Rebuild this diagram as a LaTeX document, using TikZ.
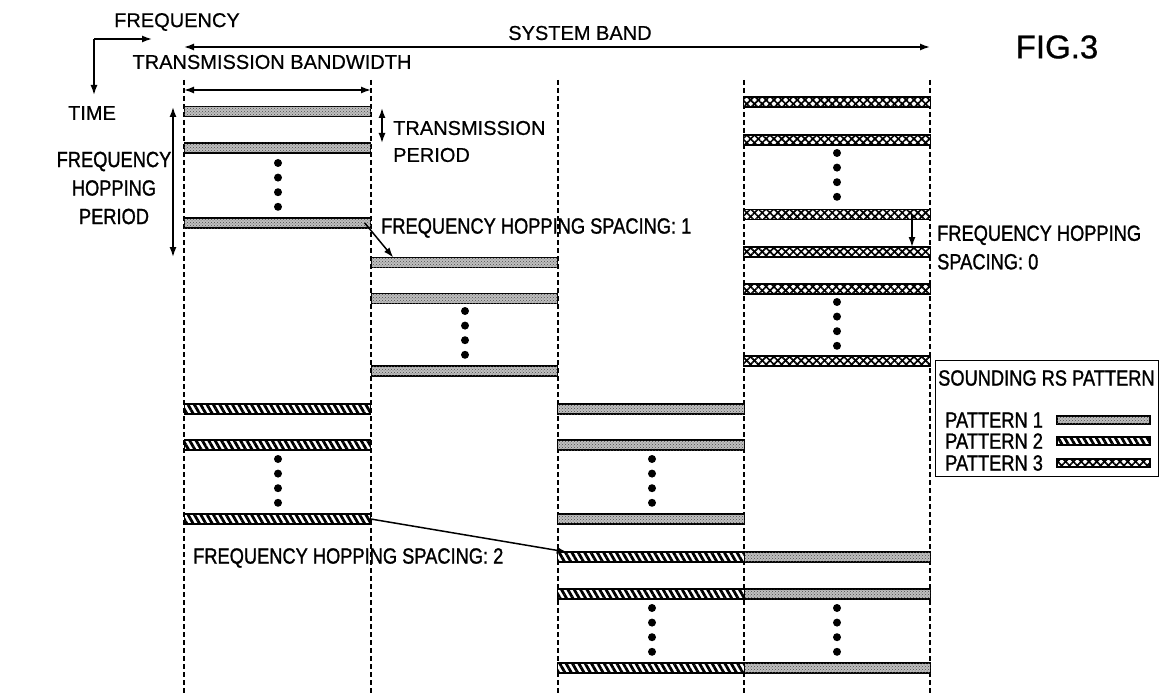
\documentclass[tikz,border=0pt]{standalone}
\usepackage{fontspec}
\setmainfont[FakeBold=0.6]{Liberation Sans}
\newfontfamily\gothic[FakeStretch=0.83,FakeBold=1.2]{Liberation Sans}
\usetikzlibrary{arrows.meta,positioning,patterns,patterns.meta}

\begin{document}
\begin{tikzpicture}[x=1pt,y=-1pt,
  axtext/.style={font=\fontsize{20}{27}\selectfont,inner sep=0pt},
  gtext/.style={font=\gothic\fontsize{22}{28.5}\selectfont,inner sep=0pt},
  guide/.style={line width=1.4pt,dash pattern=on 5pt off 3pt},
  arr/.style={line width=1.5pt,-{Latex[length=10pt,width=7pt]}},
  darr/.style={line width=1.5pt,{Latex[length=10pt,width=7pt]}-{Latex[length=10pt,width=7pt]}},
  slot/.style={draw=black,line width=1.3pt,minimum width=186.5pt,minimum height=10pt,inner sep=0pt,outer sep=0pt},
  patA/.style={slot,fill=black!25,postaction={pattern=crosshatch dots,pattern color=black!70}},
  patB/.style={slot,fill=white,postaction={pattern={Lines[angle=-60,distance=5.5pt,line width=2.8pt]}}},
  patC/.style={slot,fill=white,postaction={pattern={Lines[angle=45,distance=5.5pt,line width=1.7pt]}},
    postaction={pattern={Lines[angle=-45,distance=5.5pt,line width=1.7pt]}}},
  keybox/.style={minimum width=93pt,minimum height=8pt}]
  \useasboundingbox[fill=white] (0,0) rectangle (1161,695);
  % Axes
  \coordinate (axo) at (94,39);
  \coordinate (axf) at (152,39);
  \coordinate (axt) at (94,95);
  \draw[arr] (axo) -- (axf);
  \draw[arr] (axo) -- (axt);
  \node[axtext] (freq) at (177,22) {FREQUENCY};
  \node[axtext] (time) at (92,113) {TIME};
  \node[font=\fontsize{33}{36}\selectfont,inner sep=0pt] (fig) at (1057,47) {FIG.3};
  % Band limits
  \foreach \x in {184,371,558,744,930}
    \draw[guide] (\x,80) -- (\x,695);
  \coordinate (sbl) at (184,47);
  \coordinate (sbr) at (930,47);
  \draw[darr] (sbl) -- (sbr);
  \node[axtext] (band) at (580,33) {SYSTEM BAND};
  \coordinate (tbl) at (184,90);
  \coordinate (tbr) at (371,90);
  \draw[darr] (tbl) -- (tbr);
  \node[axtext] (tbw) at (272,62) {TRANSMISSION BANDWIDTH};
  % Periods
  \coordinate (tpt) at (382,108);
  \coordinate (tpb) at (382,143);
  \draw[darr] (tpt) -- (tpb);
  \node[axtext,anchor=west,align=left] (tper) at (393,141.5) {TRANSMISSION\\PERIOD};
  \coordinate (hpt) at (173,107);
  \coordinate (hpb) at (173,257);
  \draw[darr] (hpt) -- (hpb);
  \node[gtext,align=center] (hper) at (114,188) {FREQUENCY\\HOPPING\\PERIOD};
  % Pattern 1 slots
  \foreach \n/\x/\y in {b11/277.5/111.5, b12/277.5/148, b13/277.5/223,
      b21/464.5/262.5, b22/464.5/298.5, b23/464.5/371,
      c31/651/409, c32/651/445, c33/651/519,
      d41/837/557, d42/837/594, d43/837/668}
    \node[patA] (\n) at (\x,\y) {};
  % Pattern 2 slots
  \foreach \n/\x/\y in {c11/277.5/409, c12/277.5/445, c13/277.5/519,
      d31/651/557, d32/651/594, d33/651/668}
    \node[patB] (\n) at (\x,\y) {};
  % Pattern 3 slots
  \foreach \n/\y in {b41/102, b42/140, b43/214.5, b44/252, b45/289, b46/361}
    \node[patC] (\n) at (837,\y) {};
  % Dots
  \foreach \x/\y in {278/163, 465/311, 837/153, 837/302, 278/459, 652/459, 652/608, 837/608}
    \foreach \k in {0,...,3}
      \fill (\x,\y+14.6*\k) circle (4);
  % Hopping
  \draw[arr] ([xshift=-6pt]b13.east) -- ([xshift=22pt]b21.north west);
  \node[gtext,anchor=west] (hop1) at (381,228) {FREQUENCY HOPPING SPACING: 1};
  \draw[arr] (c13.east) -- ([xshift=9pt]d31.north west);
  \node[gtext,anchor=west] (hop2) at (193,558) {FREQUENCY HOPPING SPACING: 2};
  \draw[arr] ([xshift=75pt]b43.center) -- ([xshift=75pt]b44.north);
  \node[gtext,anchor=west,align=left] (hop0) at (937,247.5) {FREQUENCY HOPPING\\SPACING: 0};
  % Legend
  \node[draw,line width=1.2pt,minimum width=223pt,minimum height=116pt,anchor=north west] (legend) at (935,360) {};
  \node[gtext,anchor=west] (legtitle) at (938,378) {SOUNDING RS PATTERN};
  \node[gtext,anchor=west] (leg1) at (945,420) {PATTERN 1};
  \node[gtext,anchor=west] (leg2) at (945,441) {PATTERN 2};
  \node[gtext,anchor=west] (leg3) at (945,463) {PATTERN 3};
  \node[patA,keybox] (key1) at (1103.5,420) {};
  \node[patB,keybox] (key2) at (1103.5,441) {};
  \node[patC,keybox] (key3) at (1103.5,463) {};
\end{tikzpicture}
\end{document}
